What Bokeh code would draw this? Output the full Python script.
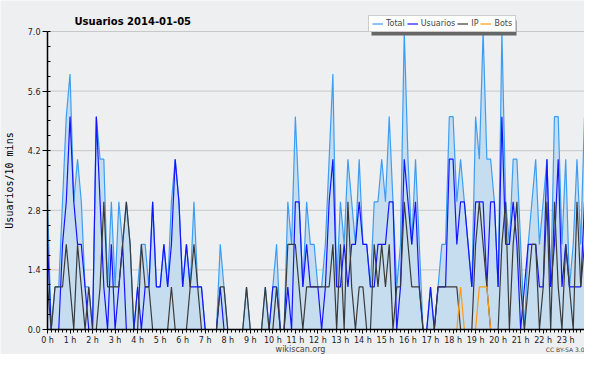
from bokeh.plotting import figure
from bokeh.models import (Range1d, FixedTicker, Label, Legend, LegendItem,
                          ColumnDataSource, PrintfTickFormatter, BoxAnnotation)
from bokeh.embed import file_html
from bokeh.resources import INLINE

# ---- data (10-minute slots over 2014-01-05) ----
hour_labels = [f"{h} h" for h in range(24)]
y_ticks = [0.0, 1.4, 2.8, 4.2, 5.6, 7.0]

total = [3,0,1,1,3,5,6,3,4,3,1,1,0,5,4,4,1,3,1,3,2,3,2,0,1,
         2,2,1,3,1,1,2,1,3,4,3,1,2,1,3,1,1,0,0,0,0,2,1,0,
         0,0,0,0,1,0,0,0,0,1,0,1,2,0,0,3,2,5,3,1,3,2,2,1,
         1,2,4,6,1,3,2,4,3,2,4,2,2,1,3,3,4,3,5,3,1,2,7,4,
         2,4,2,0,0,1,0,1,2,2,5,5,3,4,3,2,1,5,4,7,4,4,3,1,
         7,3,2,4,4,2,0,2,3,4,2,3,4,1,5,5,2,4,1,2,4,2,5]

usuarios = [2,0,0,0,2,3,5,3,2,2,1,0,0,5,3,1,0,2,0,1,2,0,0,0,1,
            0,1,1,3,1,1,2,1,2,4,3,1,2,1,1,1,1,0,0,0,0,1,0,0,
            0,0,0,0,0,0,0,0,0,0,0,1,1,0,0,1,0,3,3,1,2,1,1,1,
            0,1,3,4,1,1,2,1,2,2,3,2,2,1,1,2,2,2,3,3,0,1,4,3,
            2,3,1,0,0,1,0,1,1,1,4,4,2,3,3,2,1,3,3,3,1,3,3,1,
            5,2,2,3,2,0,1,2,2,2,1,1,4,1,2,4,1,2,1,1,1,1,3]

ip = [1,0,1,1,1,2,1,0,2,1,0,1,0,0,1,3,1,1,1,1,2,3,2,0,0,
      2,1,1,0,0,0,0,0,1,0,0,0,0,1,2,1,0,0,0,0,0,1,1,0,
      0,0,0,0,1,0,0,0,0,1,0,0,1,0,0,2,2,2,1,0,1,1,1,1,
      1,1,1,2,0,2,0,3,1,0,1,1,0,0,2,1,2,1,2,0,1,1,3,2,
      1,1,1,0,0,0,0,1,1,1,1,1,1,0,0,0,0,2,3,2,1,0,0,0,
      2,3,0,2,3,1,0,1,2,2,0,1,3,0,3,1,0,2,1,0,3,1,2]

bots = [0]*110 + [1,0,0,0,0,1,1,1] + [0]*26

slots = list(range(len(total)))

src = ColumnDataSource(dict(slot=slots, total=total, usuarios=usuarios,
                            ip=ip, bots=bots, zero=[0]*len(total)))
grid_src = ColumnDataSource(dict(y=y_ticks, x0=[slots[0]]*len(y_ticks), x1=[slots[-1]]*len(y_ticks)))

# ---- layout (pixels) ----
W, H = 584, 354
AX_X, AX_TOP, AX_BOT = 47, 31, 329          # y-axis position, 7.0 line, 0.0 line
xpx = (slots[-1] - slots[0]) / (W - AX_X)    # data units per pixel
ypx = (y_ticks[-1] - y_ticks[0]) / (AX_BOT - AX_TOP)

def dx(px):   # canvas x pixel -> data x
    return slots[0] + (px - AX_X) * xpx

def dy(py):   # canvas y pixel -> data y
    return y_ticks[0] + (AX_BOT - py) * ypx

BG = "#eeeff0"
p = figure(width=W, height=H, output_backend="svg", toolbar_location=None, title=None,
           x_range=Range1d(dx(0), dx(W)), y_range=Range1d(dy(H), dy(0)),
           min_border=0, background_fill_color=BG, border_fill_color=BG)
p.outline_line_color = None
p.xgrid.visible = False
p.ygrid.visible = False

p.segment(x0="x0", x1="x1", y0="y", y1="y", source=grid_src, line_color="#c8c8c8", line_width=1)
p.varea(x="slot", y1="zero", y2="total", source=src, fill_color="#c6ddf0")
r_total = p.line("slot", "total", source=src, line_color="#3d9df2", line_width=1.2)
r_user = p.line("slot", "usuarios", source=src, line_color="#1414ff", line_width=1.2)
r_ip = p.line("slot", "ip", source=src, line_color="#3a3a3a", line_width=1.2)
r_bots = p.line("slot", "bots", source=src, line_color="#ff9a10", line_width=1.2)

# axes (drawn at the data origin inside the frame)
p.xaxis.fixed_location = y_ticks[0]
p.xaxis.bounds = (slots[0], slots[-1])
p.xaxis.ticker = FixedTicker(ticks=slots[::6], minor_ticks=slots)
p.xaxis.major_label_overrides = {s: lab for s, lab in zip(slots[::6], hour_labels)}

step = (y_ticks[1] - y_ticks[0]) / 4
p.yaxis.fixed_location = slots[0]
p.yaxis.bounds = (y_ticks[0], y_ticks[-1])
p.yaxis.ticker = FixedTicker(ticks=y_ticks,
                             minor_ticks=[round(k * step, 3) for k in range(int(round(y_ticks[-1] / step)) + 1)])
p.yaxis.formatter = PrintfTickFormatter(format="%.1f")

for ax in (p.xaxis[0], p.yaxis[0]):
    ax.axis_line_color = "black"
    ax.axis_line_width = 1.5
    ax.major_tick_line_color = "black"
    ax.minor_tick_line_color = "black"
    ax.major_label_text_font = "DejaVu Sans"
    ax.major_label_text_font_size = "8px"
    ax.major_label_text_color = "#222222"
    ax.major_label_standoff = 2

p.xaxis.major_tick_in = 0
p.xaxis.major_tick_out = 4
p.xaxis.minor_tick_in = 0
p.xaxis.minor_tick_out = 3
p.yaxis.major_tick_in = 0
p.yaxis.major_tick_out = 5
p.yaxis.minor_tick_in = 3
p.yaxis.minor_tick_out = 0

p.yaxis.axis_label = "Usuarios/10 mins"
p.yaxis.axis_label_text_font = "DejaVu Sans Mono"
p.yaxis.axis_label_text_font_style = "normal"
p.yaxis.axis_label_text_font_size = "10px"
p.yaxis.axis_label_text_color = "black"
p.yaxis.axis_label_standoff = 10

# title and credits
p.add_layout(Label(x=dx(74), y=y_ticks[-1], y_offset=10, text="Usuarios  2014-01-05",
                   text_font="DejaVu Sans", text_font_style="bold", text_font_size="10px",
                   text_color="black", text_baseline="alphabetic"))
p.add_layout(Label(x=dx(300), y=y_ticks[0], y_offset=-20, text="wikiscan.org",
                   text_font="DejaVu Sans", text_font_size="8px", text_color="#444444",
                   text_align="center", text_baseline="alphabetic"))
p.add_layout(Label(x=slots[-1], y=y_ticks[0], y_offset=-20, text="CC BY-SA 3.0",
                   text_font="DejaVu Sans", text_font_size="6px", text_color="#444444",
                   text_align="right", text_baseline="alphabetic"))

# legend with drop shadow
LG_L, LG_T, LG_R, LG_B = 368, 17, 513, 32
p.add_layout(BoxAnnotation(left=dx(LG_L + 3), right=dx(LG_R + 3), top=dy(LG_T + 3), bottom=dy(LG_B + 3),
                           fill_color="#666666", fill_alpha=1, line_color=None, level="annotation"))
legend = Legend(items=[LegendItem(label="Total", renderers=[r_total]),
                       LegendItem(label="Usuarios", renderers=[r_user]),
                       LegendItem(label="IP", renderers=[r_ip]),
                       LegendItem(label="Bots", renderers=[r_bots])],
                orientation="horizontal", location=(LG_L, H - LG_B),
                label_text_font="DejaVu Sans", label_text_font_size="8px",
                label_height=9, label_width=0, glyph_height=9, glyph_width=11, label_standoff=3,
                spacing=2, padding=3, margin=0,
                background_fill_color="white", background_fill_alpha=1,
                border_line_color="#999999", border_line_width=1)
p.add_layout(legend)

open("out.html", "w").write(file_html(p, INLINE))
